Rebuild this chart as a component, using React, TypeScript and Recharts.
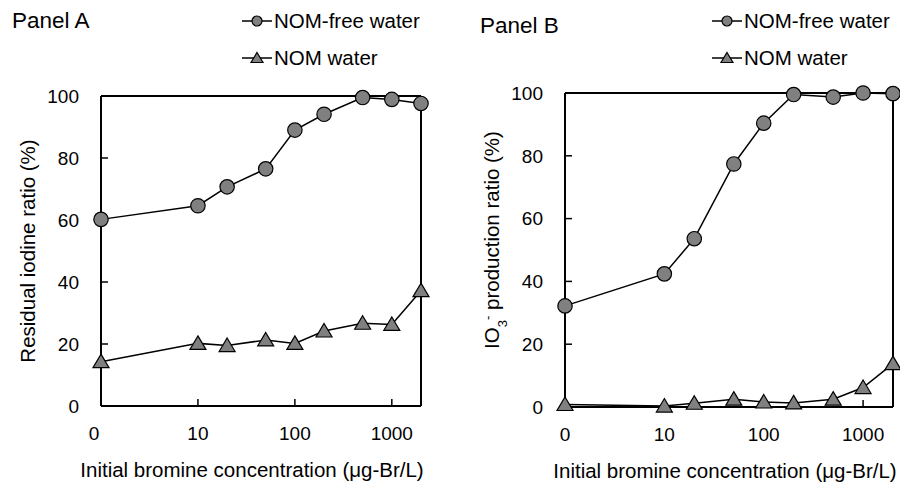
import React from "react";
import { LineChart, Line, XAxis, YAxis, ReferenceLine, Legend, Label } from "recharts";

// bromine dose (µg-Br/L); 0 is drawn one decade below 10 on the log axis
const concentrations = [0, 10, 20, 50, 100, 200, 500, 1000, 2000];
const xTickValues = [0, 10, 100, 1000];
const yTickValues = [0, 20, 40, 60, 80, 100];

// Panel A – residual iodine ratio (%)
const residualNomFree = [60.2, 64.6, 70.7, 76.5, 89.0, 94.1, 99.5, 98.9, 97.6];
const residualNom = [14.3, 20.2, 19.5, 21.3, 20.2, 24.2, 26.7, 26.3, 37.2];

// Panel B – IO3- production ratio (%)
const iodateNomFree = [32.2, 42.4, 53.6, 77.4, 90.4, 99.5, 98.7, 100, 99.8];
const iodateNom = [0.8, 0.3, 1.2, 2.5, 1.6, 1.3, 2.5, 6.2, 13.8];

const seriesNames = ["NOM-free water", "NOM water"];
const xTitle = "Initial bromine concentration (\u03bcg-Br/L)";

const FONT = "'Liberation Sans', Arial, sans-serif";
const GRAY = "#808080";
const ZERO_AT = 1;

const toPlotX = (c: number) => (c === 0 ? ZERO_AT : c);

const buildRows = (a: number[], b: number[]) =>
  concentrations.map((c, i) => ({ x: toPlotX(c), nomFree: a[i], nom: b[i] }));

const panelARows = buildRows(residualNomFree, residualNom);
const panelBRows = buildRows(iodateNomFree, iodateNom);

const CircleDot = (props: any) => {
  const { cx, cy, index } = props;
  if (cx == null || cy == null) return <g key={`c-${index}`} />;
  return <circle key={`c-${index}`} cx={cx} cy={cy} r={7.2} fill={GRAY} stroke="#000" strokeWidth={1.2} />;
};

const TriangleDot = (props: any) => {
  const { cx, cy, index } = props;
  if (cx == null || cy == null) return <g key={`t-${index}`} />;
  return (
    <path
      key={`t-${index}`}
      d={`M${cx},${cy - 7.5} L${cx + 8},${cy + 6} L${cx - 8},${cy + 6} Z`}
      fill={GRAY}
      stroke="#000"
      strokeWidth={1.2}
    />
  );
};

const LegendBlock = () => (
  <div style={{ fontFamily: FONT, fontSize: 20.5, color: "#000", whiteSpace: "nowrap" }}>
    {seriesNames.map((name, i) => (
      <div key={name} style={{ display: "flex", alignItems: "center", height: 37 }}>
        <svg width={32} height={20} style={{ flexShrink: 0 }}>
          <line x1={0} y1={10} x2={30} y2={10} stroke="#000" strokeWidth={1.5} />
          {i === 0 ? (
            <circle cx={15} cy={10} r={5} fill={GRAY} stroke="#000" strokeWidth={1.2} />
          ) : (
            <path d="M15,4.5 L21,14.5 L9,14.5 Z" fill={GRAY} stroke="#000" strokeWidth={1.2} />
          )}
        </svg>
        <span>{name}</span>
      </div>
    ))}
  </div>
);

interface PanelProps {
  rows: any[];
  margin: { top: number; right: number; bottom: number; left: number };
  legendLeft: number;
  zeroShift: number;
  xTitleShift: number;
  yTitleShift: number;
  yTitle: React.ReactNode;
}

const Panel = ({ rows, margin, legendLeft, zeroShift, xTitleShift, yTitleShift, yTitle }: PanelProps) => (
  <LineChart width={450} height={484} data={rows} margin={margin}>
    <XAxis
      dataKey="x"
      type="number"
      scale="log"
      domain={[ZERO_AT, 2000]}
      ticks={xTickValues.map(toPlotX)}
      height={30}
      axisLine={{ stroke: "#000", strokeWidth: 2 }}
      tickLine={{ stroke: "#000", strokeWidth: 1.5 }}
      tickSize={-7}
      tickMargin={28}
      tick={(p: any) => {
        const isZero = p.payload.value === ZERO_AT;
        return (
          <text
            key={`xt-${p.index}`}
            x={p.x + (isZero ? zeroShift : 0)}
            y={p.y}
            dy="0.71em"
            textAnchor="middle"
            fontSize={19}
            fontFamily={FONT}
            fill="#000"
          >
            {isZero ? "0" : String(p.payload.value)}
          </text>
        );
      }}
    >
      <Label
        content={(p: any) => {
          const vb = p.viewBox;
          return (
            <text
              x={vb.x + vb.width / 2 + xTitleShift}
              y={vb.y + 71}
              textAnchor="middle"
              fontSize={20.5}
              fontFamily={FONT}
              fill="#000"
            >
              {xTitle}
            </text>
          );
        }}
      />
    </XAxis>
    <YAxis
      type="number"
      domain={[0, 100]}
      ticks={yTickValues}
      width={60}
      axisLine={{ stroke: "#000", strokeWidth: 2 }}
      tickLine={{ stroke: "#000", strokeWidth: 1.5 }}
      tickSize={-7}
      tickMargin={29}
      tick={{ fill: "#000", fontSize: 19, fontFamily: FONT }}
    >
      <Label
        content={(p: any) => {
          const vb = p.viewBox;
          const x = vb.x + vb.width - 66;
          const y = vb.y + vb.height / 2 + yTitleShift;
          return (
            <text
              x={x}
              y={y}
              transform={`rotate(-90, ${x}, ${y})`}
              textAnchor="middle"
              fontSize={20.5}
              fontFamily={FONT}
              fill="#000"
            >
              {yTitle}
            </text>
          );
        }}
      />
    </YAxis>
    <ReferenceLine y={100} stroke="#000" strokeWidth={2} />
    <ReferenceLine x={2000} stroke="#000" strokeWidth={2} />
    <Legend
      layout="horizontal"
      verticalAlign="middle"
      align="center"
      content={() => <LegendBlock />}
      wrapperStyle={{ left: legendLeft, top: 2, width: "auto" }}
    />
    <Line
      dataKey="nomFree"
      name={seriesNames[0]}
      stroke="#000"
      strokeWidth={1.5}
      dot={CircleDot}
      activeDot={false}
      isAnimationActive={false}
    />
    <Line
      dataKey="nom"
      name={seriesNames[1]}
      stroke="#000"
      strokeWidth={1.5}
      dot={TriangleDot}
      activeDot={false}
      isAnimationActive={false}
    />
  </LineChart>
);

const titleStyle: React.CSSProperties = {
  position: "absolute",
  fontFamily: FONT,
  fontSize: 22.5,
  color: "#000",
  lineHeight: "26px",
  whiteSpace: "nowrap",
};

export default function App() {
  return (
    <div style={{ position: "absolute", left: 0, top: 0, width: 900, height: 484, background: "#fff" }}>
      <div style={{ position: "absolute", left: 0, top: 0 }}>
        <Panel
          rows={panelARows}
          margin={{ top: 96, right: 29, bottom: 48, left: 41 }}
          legendLeft={242}
          zeroShift={-7}
          xTitleShift={-9}
          yTitleShift={0}
          yTitle="Residual iodine ratio (%)"
        />
      </div>
      <div style={{ position: "absolute", left: 450, top: 0 }}>
        <Panel
          rows={panelBRows}
          margin={{ top: 93, right: 7, bottom: 47, left: 55 }}
          legendLeft={262}
          zeroShift={0}
          xTitleShift={-4}
          yTitleShift={-10}
          yTitle={
            <>
              IO
              <tspan baselineShift="sub" fontSize={13}>3</tspan>
              <tspan baselineShift="super" fontSize={13}>-</tspan>
              <tspan> production ratio (%)</tspan>
            </>
          }
        />
      </div>
      <div style={{ ...titleStyle, left: 12, top: 8 }}>Panel A</div>
      <div style={{ ...titleStyle, left: 480, top: 13 }}>Panel B</div>
    </div>
  );
}
